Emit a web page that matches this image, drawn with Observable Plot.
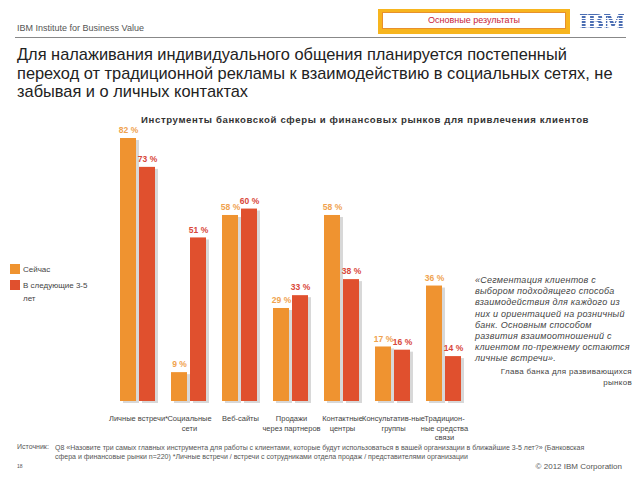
<!DOCTYPE html>
<html><head><meta charset="utf-8">
<script src="https://cdn.jsdelivr.net/npm/d3@7"></script>
<script src="https://cdn.jsdelivr.net/npm/@observablehq/plot@0.6"></script>
<style>
body{margin:0;width:640px;height:480px;overflow:hidden;background:#fff;font-family:"Liberation Sans",Arial,sans-serif;position:relative}
.abs{position:absolute}
#chart{position:absolute;left:0;top:0}
</style></head><body>
<div id="chart"></div>
<div class="abs" style="left:17px;top:23px;font-size:9px;color:#555">IBM Institute for Business Value</div>
<div class="abs" style="left:15px;top:37px;width:611px;height:1px;background:#888"></div>
<div class="abs" style="left:378px;top:9px;width:192px;height:25px;background:#f7b51e;box-sizing:border-box;padding:3px 4px">
  <div style="background:#fff;border:1px solid #e8902c;height:17px;box-sizing:border-box;text-align:center;font-size:9px;line-height:15px;color:#c8233a">Основные результаты</div>
</div>
<div class="abs" style="left:579px;top:11px;font-size:20px;line-height:22px;font-weight:bold;font-family:'DejaVu Serif',serif;letter-spacing:-1px;color:transparent;background:repeating-linear-gradient(#4a6db3 0 1.6px,rgba(255,255,255,0) 1.6px 2.6px);-webkit-background-clip:text;background-clip:text">IBM</div>
<div class="abs" style="left:17px;top:45px;font-size:16.4px;line-height:18.6px;color:#222;width:630px;white-space:nowrap">Для налаживания индивидуального общения планируется постепенный<br>переход от традиционной рекламы к взаимодействию в социальных сетях, не<br>забывая и о личных контактах</div>
<div class="abs" style="left:141px;top:114px;font-size:9.6px;font-weight:bold;color:#333;letter-spacing:0.62px;white-space:nowrap">Инструменты банковской сферы и финансовых рынков для привлечения клиентов</div>
<div class="abs" style="left:10px;top:263px;font-size:8px;color:#444;line-height:13.5px">
  <div><span style="display:inline-block;width:10px;height:10px;background:#ef9330;vertical-align:-2px;margin-right:3px"></span>Сейчас</div>
  <div style="padding-left:13px;text-indent:-13px;margin-top:2px"><span style="display:inline-block;width:10px;height:10px;background:#e0502e;vertical-align:-2px;margin-right:3px;text-indent:0"></span>В следующие 3-5<br>лет</div>
</div>
<div class="abs" style="left:475px;top:275px;width:165px;font-size:9px;font-style:italic;color:#444;line-height:11.2px;letter-spacing:0.25px;white-space:nowrap">«Сегментация клиентов с<br>выбором подходящего способа<br>взаимодействия для каждого из<br>них и ориентацией на розничный<br>банк. Основным способом<br>развития взаимоотношений с<br>клиентом по-прежнему остаются<br>личные встречи».</div>
<div class="abs" style="left:420px;top:366px;width:212px;text-align:right;font-size:8px;color:#444;line-height:11px;letter-spacing:0.3px">Глава банка для развивающихся<br>рынков</div>
<div class="abs" style="left:17px;top:443px;font-size:7px;color:#555">Источник:</div>
<div class="abs" style="left:55px;top:443px;width:580px;font-size:7px;color:#555;line-height:9px;white-space:nowrap">Q8 «Назовите три самых главных инструмента для работы с клиентами, которые будут использоваться в вашей организации в ближайшие 3-5 лет?» (Банковская<br>сфера и финансовые рынки n=220) *Личные встречи / встречи с сотрудниками отдела продаж / представителями организации</div>
<div class="abs" style="left:17px;top:463px;font-size:5px;color:#555">18</div>
<div class="abs" style="left:470px;top:462px;width:152px;text-align:right;font-size:8px;color:#555">© 2012 IBM Corporation</div>
<script>
const categories = ["Личные встречи*", "Социальные\nсети", "Веб-сайты", "Продажи\nчерез партнеров", "Контактные\nцентры", "Консультатив-ные\nгруппы", "Традицион-\nные средства\nсвязи"];
const series = ["Сейчас", "В следующие 3-5 лет"];
const now = [82, 9, 58, 29, 58, 17, 36];
const next = [73, 51, 60, 33, 38, 16, 14];
const colors = ["#ef9330", "#e0502e"];
const labelColors = ["#f0a24e", "#d9473a"];

const data = [];
categories.forEach((c, i) => {
  data.push({cat: c, s: series[0], v: now[i]});
  data.push({cat: c, s: series[1], v: next[i]});
});
const cats = categories.map(c => ({cat: c}));

const chart = Plot.plot({
  width: 640, height: 480,
  marginLeft: 118, marginRight: 176, marginTop: 138, marginBottom: 79,
  style: {fontFamily: "Liberation Sans, Arial, sans-serif", background: "transparent", overflow: "visible"},
  fx: {domain: categories, padding: 0.3, paddingOuter: 0, axis: null},
  x: {domain: series, paddingInner: 0.15, paddingOuter: 0, axis: null},
  y: {domain: [0, 82], axis: null},
  color: {domain: series, range: colors},
  marks: [
    Plot.barY(data, {fx: "cat", x: "s", y: "v", fill: "#c8c8c8", fillOpacity: 0.7, dx: 3, dy: 2}),
    Plot.barY(data, {fx: "cat", x: "s", y: "v", fill: "s"}),
    Plot.text(data, {fx: "cat", x: "s", y: "v", text: d => d.v + " %", dy: -8, fontSize: 8.5, fontWeight: "bold",
      fill: d => d.s === series[0] ? labelColors[0] : labelColors[1]}),
    Plot.text(cats, {fx: "cat", text: "cat", frameAnchor: "bottom", lineAnchor: "top", dy: 13, fontSize: 7.5, fill: "#444", lineHeight: 1.25})
  ]
});
document.getElementById("chart").appendChild(chart);
</script>
</body></html>
